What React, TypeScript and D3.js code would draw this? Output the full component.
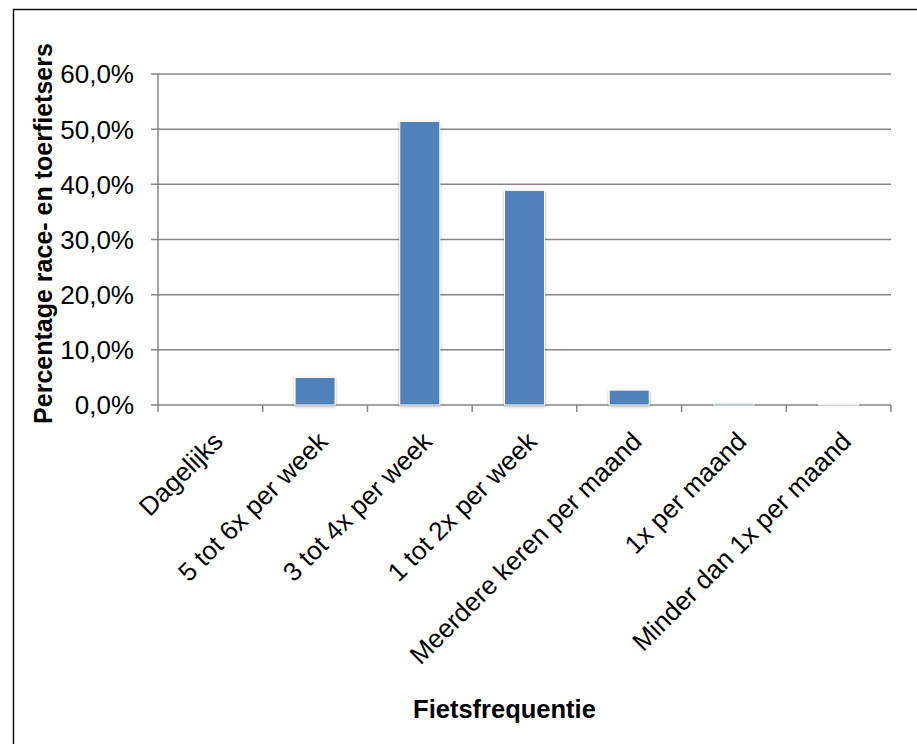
import React from "react";
import * as d3 from "d3";

const categories = [
  "Dagelijks",
  "5 tot 6x per week",
  "3 tot 4x per week",
  "1 tot 2x per week",
  "Meerdere keren per maand",
  "1x per maand",
  "Minder dan 1x per maand",
];
const values = [0, 5.0, 51.4, 38.9, 2.7, 0.3, 0.2];
const yTicks = [0, 10, 20, 30, 40, 50, 60];
const yTitle = "Percentage race- en toerfietsers";
const xTitle = "Fietsfrequentie";

const W = 917;
const H = 744;
const plot = { left: 158, right: 891, top: 74, bottom: 405 };
const FONT = "'Liberation Sans', Arial, Helvetica, sans-serif";
const gridColor = "#868686";

export default function App() {
  const x = d3
    .scaleBand<string>()
    .domain(categories)
    .range([plot.left, plot.right])
    .padding(0);
  const y = d3.scaleLinear().domain([0, 60]).range([plot.bottom, plot.top]);
  const bw = x.bandwidth() * 0.382;
  const fmt = (v: number) => v.toFixed(1).replace(".", ",") + "%";

  return (
    <svg
      width={W}
      height={H}
      style={{ position: "absolute", left: 0, top: 0, background: "#fff" }}
      fontFamily={FONT}
    >
      <defs>
        <filter id="shadow" x="-30%" y="-30%" width="160%" height="160%">
          <feGaussianBlur in="SourceAlpha" stdDeviation="1.6" />
          <feOffset dx="0" dy="0.5" result="b" />
          <feComponentTransfer>
            <feFuncA type="linear" slope="0.35" />
          </feComponentTransfer>
          <feMerge>
            <feMergeNode />
            <feMergeNode in="SourceGraphic" />
          </feMerge>
        </filter>
      </defs>
      <rect x={0} y={0} width={W} height={H} fill="#fff" />
      <rect
        x={13.5}
        y={9.5}
        width={2000}
        height={2000}
        fill="none"
        stroke="#111"
        strokeWidth={1.5}
      />
      {/* gridlines and y ticks */}
      {yTicks.map((t) => (
        <g key={t}>
          <line
            x1={plot.left - 7}
            x2={plot.right}
            y1={y(t)}
            y2={y(t)}
            stroke={gridColor}
            strokeWidth={1.5}
          />
          <text
            x={134}
            y={y(t)}
            dy="0.36em"
            textAnchor="end"
            fontSize={26}
            fill="#000"
          >
            {fmt(t)}
          </text>
        </g>
      ))}
      {/* y axis */}
      <line
        x1={plot.left}
        x2={plot.left}
        y1={plot.top}
        y2={plot.bottom}
        stroke={gridColor}
        strokeWidth={1.5}
      />
      {/* x ticks */}
      {categories.map((c) => (
        <line
          key={"t" + c}
          x1={x(c)!}
          x2={x(c)!}
          y1={plot.bottom}
          y2={plot.bottom + 7}
          stroke={gridColor}
          strokeWidth={1.5}
        />
      ))}
      <line
        x1={plot.right}
        x2={plot.right}
        y1={plot.bottom}
        y2={plot.bottom + 7}
        stroke={gridColor}
        strokeWidth={1.5}
      />
      {/* bars */}
      {categories.map((c, i) => {
        const cx = x(c)! + x.bandwidth() / 2;
        const top = y(values[i]);
        return (
          <rect
            key={"b" + c}
            x={cx - bw / 2}
            y={top}
            width={bw}
            height={Math.max(0, plot.bottom - top)}
            fill="#4F81BD"
            stroke="#fff"
            strokeWidth={values[i] > 0 ? 1 : 0}
            filter={values[i] > 0 ? "url(#shadow)" : undefined}
          />
        );
      })}
      {/* x labels */}
      {categories.map((c) => {
        const cx = x(c)! + x.bandwidth() / 2;
        return (
          <text
            key={"l" + c}
            transform={`translate(${cx + 14},${443}) rotate(-45)`}
            textAnchor="end"
            fontSize={26}
            fill="#000"
          >
            {c}
          </text>
        );
      })}
      {/* axis titles */}
      <text
        transform={`translate(52,233.5) rotate(-90)`}
        textAnchor="middle"
        fontSize={25}
        fontWeight="bold"
        fill="#000"
      >
        {yTitle}
      </text>
      <text
        x={504.5}
        y={718}
        textAnchor="middle"
        fontSize={25.5}
        fontWeight="bold"
        fill="#000"
      >
        {xTitle}
      </text>
    </svg>
  );
}
